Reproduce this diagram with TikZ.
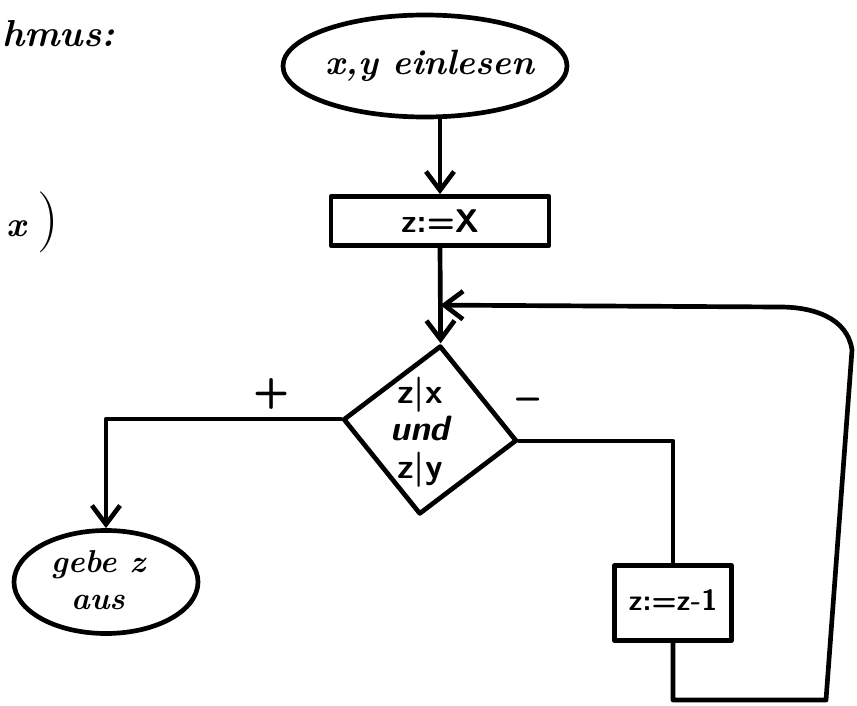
\documentclass[tikz,border=0pt]{standalone}
\usetikzlibrary{shapes.geometric,arrows.meta,calc}
\begin{document}
\begin{tikzpicture}[x=0.03cm,y=-0.03cm,
  ink/.style={line width=4pt,line cap=round,line join=round},
  tip/.style={-{Straight Barb[length=16pt,width=24pt,line width=4pt]}},
  hand/.style={font=\fontsize{30}{34}\selectfont\itshape\bfseries},
  blockletters/.style={font=\fontsize{28}{32}\selectfont\sffamily\bfseries},
  ellbox/.style={ink,draw,ellipse,inner sep=0pt},
  rectbox/.style={ink,draw,rectangle,inner sep=0pt},
  branchlabel/.style={font=\fontsize{36}{40}\selectfont\sffamily\bfseries}]
\useasboundingbox (0,0) rectangle (857,706);

% fragments at the left edge
\node[inner sep=0pt,anchor=west,font=\fontsize{32}{36}\selectfont\itshape\bfseries] (title) at (2,34) {hmus:};
\node[hand,inner sep=0pt] (xfrag) at (16,229) {x};
\node[inner sep=0pt,font=\fontsize{52}{56}\selectfont] (paren) at (48,222) {)};

% nodes
\node[ellbox,minimum width=8.52cm,minimum height=3.06cm] (start) at (425,66) {};
\node[hand] (starttext) at (430,66) {x,y einlesen};

\node[rectbox,minimum width=6.54cm,minimum height=1.47cm] (init) at (440,221) {};
\node[blockletters] (inittext) at (440,221) {z:=X};

\node[ink,draw,diamond,rotate=-7,minimum width=5.25cm,minimum height=5.1cm,inner sep=0pt] (cond) at (430,430) {};
\node[align=center,font=\fontsize{30}{36}\selectfont\sffamily\bfseries] (condtext) at (420,432)
  {z|x\\[-4pt]{\itshape und}\\[-4pt]z|y};

\node[rectbox,minimum width=3.51cm,minimum height=2.25cm] (dec) at (673,603) {};
\node[font=\fontsize{25}{28}\selectfont\sffamily\bfseries] (dectext) at (673,600) {z:=z-1};

\node[ellbox,minimum width=5.52cm,minimum height=3.09cm] (out) at (106,582) {};
\node[align=center,font=\fontsize{27}{31}\selectfont\itshape\bfseries] (outtext) at (98,580) {gebe z\\aus};

% helper coordinates
\coordinate (merge) at ($(init.south)!0.6!(cond.north)$);
\coordinate (br) at (826,700);
\coordinate (bl) at (dec.south |- br);
\coordinate (tr) at (852,350);
\coordinate (bend) at (780,307);

% connectors
\draw[ink,tip] (start.south -| init.north) -- (init.north);
\draw[ink,tip] (init.south) -- (cond.north);
\draw[ink,tip] (cond.west) -| (out.north);
\draw[ink] (cond.east) -| (dec.north);
\draw[ink,tip] (dec.south) -- (bl) -- (br) -- (tr) to[out=98,in=0] (bend) -- (merge);

% branch labels
\node[branchlabel] (plus) at (272,394) {+};
\node[branchlabel] (minus) at (528,405) {--};
\end{tikzpicture}
\end{document}
